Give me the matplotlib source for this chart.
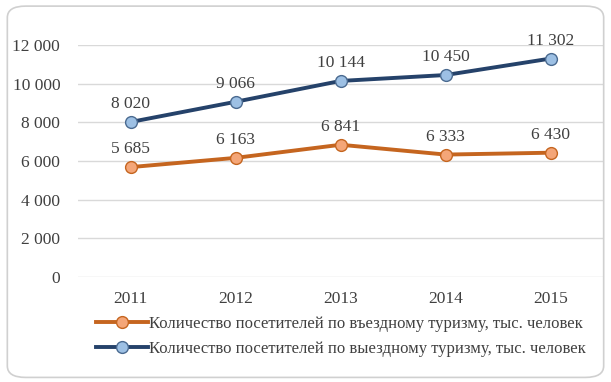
import matplotlib.pyplot as plt
from matplotlib.patches import FancyBboxPatch

years = ['2011', '2012', '2013', '2014', '2015']
inbound = [5685, 6163, 6841, 6333, 6430]
outbound = [8020, 9066, 10144, 10450, 11302]
inbound_name = 'Количество посетителей по въездному туризму, тыс. человек'
outbound_name = 'Количество посетителей по выездному туризму, тыс. человек'
yticks = [0, 2000, 4000, 6000, 8000, 10000, 12000]


def fmt(v):
    return f'{v:,}'.replace(',', ' ')


plt.rcParams['font.family'] = ['Liberation Serif', 'DejaVu Serif']
fig = plt.figure(figsize=(6.11, 3.82), dpi=100)
fig.patches.append(FancyBboxPatch((0.012, 0.012), 0.976, 0.972,
                                  boxstyle='round,pad=0,rounding_size=0.03',
                                  transform=fig.transFigure, facecolor='none',
                                  edgecolor='#D0D0D0', linewidth=1.2))
ax = fig.add_axes([0.128, 0.275, 0.859, 0.607])
ax.set_facecolor('none')

x = range(len(years))
ax.plot(x, inbound, color='#C5651F', lw=2.8, marker='o', ms=8.5,
        mfc='#F4A678', mec='#C5651F', mew=1, label=inbound_name, zorder=3)
ax.plot(x, outbound, color='#25426A', lw=2.8, marker='o', ms=8.5,
        mfc='#9DC0E4', mec='#4A6A90', mew=1, label=outbound_name, zorder=3)

for i in x:
    ax.annotate(fmt(inbound[i]), (i, inbound[i]), xytext=(0, 7),
                textcoords='offset points', ha='center', va='bottom', fontsize=12.5,
                color='#404040')
    ax.annotate(fmt(outbound[i]), (i, outbound[i]), xytext=(0, 7),
                textcoords='offset points', ha='center', va='bottom', fontsize=12.5,
                color='#404040', annotation_clip=False)

ax.set_xlim(-0.5, len(years) - 0.5)
ax.set_ylim(0, 12000)
ax.set_yticks(yticks)
ax.set_yticklabels([fmt(v) for v in yticks])
ax.set_xticks(list(x))
ax.set_xticklabels(years)
ax.tick_params(length=0, labelsize=12.5, colors='#404040', pad=10)
ax.tick_params(axis='y', pad=13)
ax.grid(axis='y', color='#D9D9D9', lw=1)
ax.set_axisbelow(True)
for s in ax.spines.values():
    s.set_visible(False)

fig.legend(loc='upper center', bbox_to_anchor=(0.558, 0.212), ncol=1, frameon=False,
           fontsize=12, handlelength=3.1, handletextpad=0.1, labelspacing=0.55,
           labelcolor='#404040')

fig.savefig('out.png', dpi=100)
